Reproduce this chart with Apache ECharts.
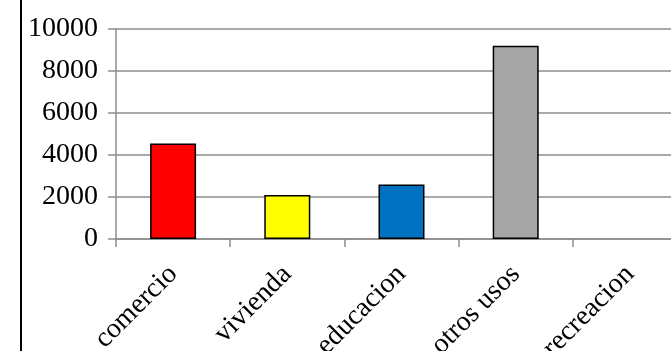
<!DOCTYPE html>
<html><head><meta charset="utf-8">
<script src="https://cdn.jsdelivr.net/npm/echarts@6/dist/echarts.min.js"></script>
<style>html,body{margin:0;padding:0;background:#fff;overflow:hidden;}#c{width:687px;height:351px;}</style>
</head><body><div id="c"></div>
<script>
const categories = ['comercio', 'vivienda', 'educacion', 'otros usos', 'recreacion'];
const values = [4550, 2100, 2600, 9200, 0];
const barColors = ['#FF0000', '#FFFF00', '#0070C0', '#A6A6A6', '#A6A6A6'];
const yTicks = [0, 2000, 4000, 6000, 8000, 10000];

const chart = echarts.init(document.getElementById('c'));
const font = '"Liberation Serif", "Times New Roman", serif';
chart.setOption({
  animation: false,
  grid: { left: 116, right: 0, top: 29, bottom: 112, containLabel: false, outerBoundsMode: 'none' },
  graphic: [{ type: 'rect', shape: { x: 20, y: 0, width: 2, height: 351 }, style: { fill: '#000' } }],
  xAxis: {
    type: 'category', data: categories,
    axisLine: { lineStyle: { color: '#8c8c8c', width: 1.5 } },
    axisTick: { show: true, length: 8, alignWithLabel: false, lineStyle: { color: '#8c8c8c', width: 1.5 } },
    axisLabel: { rotate: 45, interval: 0, margin: 31, color: '#000', fontFamily: font, fontSize: 28 }
  },
  yAxis: {
    type: 'value', min: yTicks[0], max: yTicks[yTicks.length - 1], interval: 2000,
    axisLine: { show: true, lineStyle: { color: '#8c8c8c', width: 1.5 } },
    axisTick: { show: true, length: 8, lineStyle: { color: '#8c8c8c', width: 1.5 } },
    splitLine: { show: true, lineStyle: { color: '#8c8c8c', width: 1.5 } },
    axisLabel: { margin: 18, color: '#000', fontFamily: font, fontSize: 28, padding: [0, 0, 6, 0], formatter: v => String(v) }
  },
  series: [{
    type: 'bar', barWidth: 46,
    data: values.map((v, i) => ({ value: v, itemStyle: { color: barColors[i], borderWidth: v === 0 ? 0 : 1.5 } })),
    itemStyle: { borderColor: '#000', borderWidth: 1.5 }
  }]
});
</script></body></html>
